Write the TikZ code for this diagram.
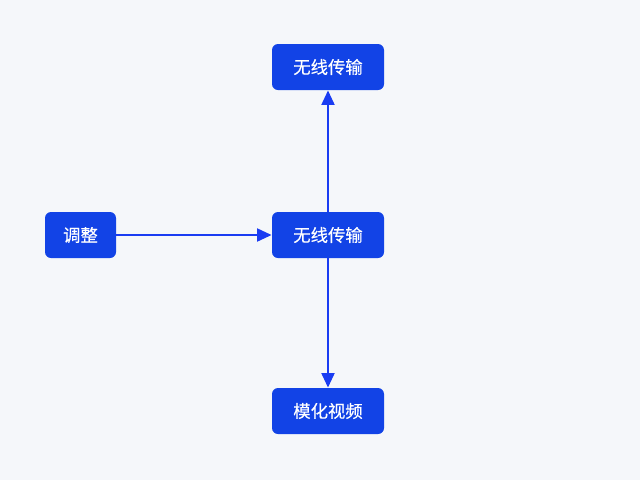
\documentclass[tikz,border=0pt]{standalone}
\usepackage{fontspec}
\newfontfamily\cjk[FakeBold=0.4]{Noto Sans CJK SC}
\usetikzlibrary{arrows.meta}
\definecolor{bg}{HTML}{F5F7FA}
\definecolor{boxblue}{HTML}{1243E6}
\definecolor{linkblue}{HTML}{1A3CF2}
\tikzset{
  box/.style={draw=none, fill=boxblue, rounded corners=4.5pt, text=white, font=\cjk\fontsize{13}{15}\selectfont, inner sep=0pt, minimum height=34.5pt},
  link/.style={draw=linkblue, line width=2.2pt, -{Triangle[length=11pt,width=9.5pt]}}
}
\begin{document}
\begin{tikzpicture}[x=0.75pt,y=-0.75pt]
\fill[bg] (0,0) rectangle (640,480);
\useasboundingbox (0,0) rectangle (640,480);
\node[box, minimum width=84pt] (top) at (328,67) {无线传输};
\node[box, minimum width=84pt] (mid) at (328,235) {无线传输};
\node[box, minimum width=53.25pt] (left) at (80.5,235) {调整};
\node[box, minimum width=84pt] (bot) at (328,411) {模化视频};
\draw[link] (left) -- (mid);
\draw[link] (mid) -- (top);
\draw[link] (mid) -- (bot);
\end{tikzpicture}
\end{document}
